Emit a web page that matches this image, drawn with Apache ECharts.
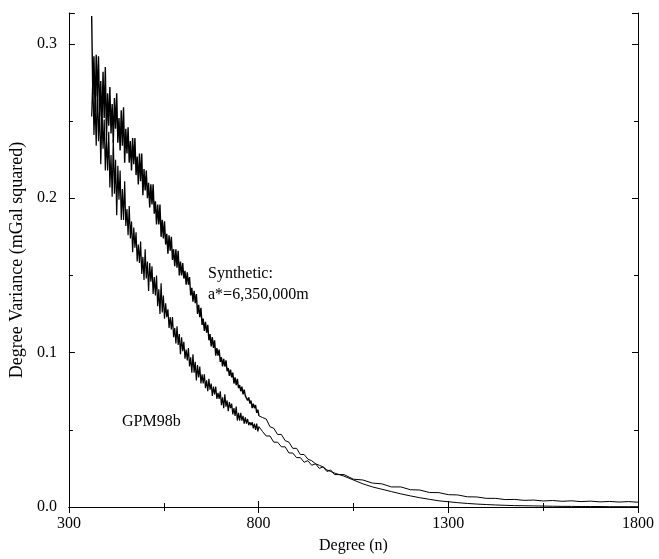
<!DOCTYPE html>
<html>
<head>
<meta charset="utf-8">
<script src="https://cdn.jsdelivr.net/npm/echarts@6/dist/echarts.min.js"></script>
<style>
html,body{margin:0;padding:0;background:#fff;overflow:hidden;}
#chart{width:659px;height:559px;}
</style>
</head>
<body>
<div id="chart"></div>
<script>
const degrees = [
360,363,366,369,372,375,378,381,384,387,390,393,396,399,
402,405,408,411,414,417,420,423,426,429,432,435,438,441,444,447,
450,453,456,459,462,465,468,471,474,477,480,483,486,489,492,495,498,
501,504,507,510,513,516,519,522,525,528,531,534,537,540,543,546,549,
552,555,558,561,564,567,570,573,576,579,582,585,588,591,594,597,
600,603,606,609,612,615,618,621,624,627,630,633,636,639,642,645,648,
651,654,657,660,663,666,669,672,675,678,681,684,687,690,693,696,699,
702,705,708,711,714,717,720,723,726,729,732,735,738,741,744,747,
750,753,756,759,762,765,768,771,774,777,780,783,786,789,792,795,798,801,
810,820,830,840,850,860,870,880,890,900,
910,920,930,940,950,960,970,980,990,1000,
1025,1050,1075,1100,1125,1150,1175,1200,1225,1250,1275,1300,1325,1350,1375,1400,
1425,1450,1475,1500,1525,1550,1575,1600,1625,1650,1675,1700,1725,1750,1775,1800
];
const synthetic = [
0.318,0.267,0.292,0.256,0.293,0.266,0.292,0.253,0.276,0.245,0.282,0.252,0.285,0.238,
0.268,0.247,0.272,0.242,0.261,0.236,0.265,0.245,0.268,0.236,0.252,0.231,0.257,0.234,0.259,0.223,
0.245,0.229,0.246,0.223,0.237,0.218,0.239,0.222,0.239,0.215,0.227,0.209,0.229,0.211,0.229,0.202,0.219,
0.205,0.218,0.200,0.210,0.194,0.209,0.196,0.209,0.190,0.198,0.183,0.196,0.183,0.196,0.175,0.186,0.174,
0.185,0.170,0.177,0.164,0.176,0.166,0.175,0.160,0.167,0.156,0.167,0.155,0.166,0.150,0.159,0.150,
0.158,0.148,0.153,0.144,0.152,0.144,0.149,0.137,0.142,0.133,0.140,0.132,0.138,0.125,0.131,0.123,0.129,
0.118,0.122,0.114,0.120,0.113,0.118,0.108,0.112,0.104,0.110,0.103,0.108,0.098,0.103,0.098,0.102,0.094,
0.097,0.091,0.096,0.091,0.095,0.088,0.090,0.085,0.089,0.084,0.087,0.080,0.084,0.079,0.083,0.077,
0.079,0.075,0.078,0.073,0.076,0.072,0.073,0.069,0.071,0.067,0.069,0.064,0.067,0.064,0.066,0.061,0.063,0.059,
0.058,0.057,0.052,0.051,0.047,0.047,0.043,0.042,0.038,0.038,
0.034,0.034,0.031,0.030,0.028,0.027,0.026,0.024,0.023,0.022,
0.020,0.0175,0.015,0.013,0.0115,0.010,0.0085,0.0072,0.006,0.005,0.004,0.0034,0.0028,0.0023,0.0019,0.0016,
0.0013,0.0011,0.0009,0.0008,0.0007,0.0006,0.0005,0.0004,0.0004,0.0003,0.0003,0.0003,0.0002,0.0002,0.0002,0.0002
];
const gpm98b = [
0.253,0.278,0.241,0.262,0.234,0.272,0.237,0.258,0.222,0.253,0.232,0.251,0.218,0.239,
0.218,0.243,0.207,0.228,0.201,0.238,0.203,0.225,0.189,0.221,0.199,0.218,0.186,0.206,0.186,0.211,
0.182,0.193,0.176,0.195,0.174,0.185,0.165,0.181,0.168,0.178,0.159,0.170,0.158,0.172,0.151,0.162,0.147,
0.167,0.148,0.159,0.140,0.158,0.146,0.156,0.138,0.149,0.137,0.150,0.130,0.141,0.125,0.145,0.126,0.137,
0.122,0.132,0.123,0.128,0.116,0.123,0.115,0.123,0.110,0.116,0.106,0.117,0.105,0.112,0.099,0.110,
0.101,0.107,0.096,0.102,0.095,0.103,0.091,0.097,0.087,0.099,0.087,0.094,0.082,0.092,0.084,0.091,0.080,
0.086,0.080,0.086,0.077,0.082,0.075,0.083,0.076,0.080,0.072,0.078,0.073,0.078,0.070,0.074,0.070,0.075,
0.066,0.071,0.064,0.073,0.065,0.069,0.062,0.068,0.064,0.067,0.060,0.064,0.059,0.065,0.056,0.061,
0.056,0.061,0.056,0.059,0.054,0.058,0.054,0.057,0.053,0.055,0.053,0.055,0.051,0.054,0.050,0.054,0.049,0.052,
0.049,0.046,0.046,0.042,0.042,0.039,0.039,0.035,0.035,0.032,
0.032,0.029,0.030,0.027,0.028,0.025,0.026,0.023,0.024,0.021,
0.021,0.018,0.0175,0.0155,0.015,0.013,0.013,0.0112,0.011,0.0094,0.0093,0.008,0.0078,0.0066,0.0065,0.0056,
0.0056,0.0048,0.0049,0.0043,0.0045,0.0039,0.0042,0.0037,0.004,0.0035,0.0038,0.0033,0.0036,0.0032,0.0035,0.0031
];
const noisyUntil = 801;   // the dense, noisy part of both traces ends here
const xTicks = [300, 800, 1300, 1800];
const yTicks = [0.0, 0.1, 0.2, 0.3];
const xName = 'Degree (n)';
const yName = 'Degree Variance (mGal squared)';
const labelSynthetic = ['Synthetic:', 'a*=6,350,000m'];
const labelGpm = 'GPM98b';

const FONT = '"Liberation Serif", "DejaVu Serif", serif';
const chart = echarts.init(document.getElementById('chart'), null, {renderer: 'canvas', width: 659, height: 559});

const cut = degrees.indexOf(noisyUntil);
function pairs(xs, ys){ return xs.map((x, i) => [x, ys[i]]); }
function head(ys){ return pairs(degrees.slice(0, cut + 1), ys.slice(0, cut + 1)); }
function tail(ys){ return pairs(degrees.slice(cut), ys.slice(cut)); }

const axLine = {show: true, lineStyle: {color: '#000', width: 1}};
const baseX = {
  type: 'value', min: xTicks[0], max: xTicks[xTicks.length-1], interval: xTicks[1]-xTicks[0],
  axisLine: axLine, splitLine: {show: false},
  axisTick: {show: true, inside: true, length: 6, lineStyle: {color: '#000'}},
  minorTick: {show: true, splitNumber: 2, length: 4, lineStyle: {color: '#000'}},
  minorSplitLine: {show: false}
};
const baseY = {
  type: 'value', min: 0, max: 0.32, interval: yTicks[1]-yTicks[0],
  axisLine: axLine, splitLine: {show: false},
  axisTick: {show: true, inside: true, length: 6, lineStyle: {color: '#000'}},
  minorTick: {show: true, splitNumber: 2, length: 4, lineStyle: {color: '#000'}},
  minorSplitLine: {show: false}
};
function line(name, data, w){
  return {type: 'line', name: name, data: data, showSymbol: false, silent: true,
    lineStyle: {color: '#000', width: w}, itemStyle: {color: '#000'}};
}

chart.setOption({
  animation: false,
  backgroundColor: '#fff',
  grid: {left: 67, right: 21, top: 13, bottom: 46, containLabel: false},
  xAxis: [
    Object.assign({}, baseX, {
      position: 'bottom',
      name: xName, nameLocation: 'middle', nameGap: 31,
      nameTextStyle: {fontFamily: FONT, fontSize: 16, color: '#000'},
      axisLabel: {show: true, margin: 9, fontFamily: FONT, fontSize: 16, color: '#000',
        formatter: v => xTicks.indexOf(v) >= 0 ? String(v) : ''}
    }),
    Object.assign({}, baseX, {position: 'top', axisLabel: {show: false}})
  ],
  yAxis: [
    Object.assign({}, baseY, {
      position: 'left',
      name: yName, nameLocation: 'middle', nameGap: 42, nameRotate: 90,
      nameTextStyle: {fontFamily: FONT, fontSize: 18, color: '#000'},
      axisLabel: {show: true, margin: 12, fontFamily: FONT, fontSize: 16, color: '#000',
        showMaxLabel: false,
        formatter: v => (Math.abs(v*10 - Math.round(v*10)) < 1e-6) ? v.toFixed(1) : ''}
    }),
    Object.assign({}, baseY, {position: 'right', axisLabel: {show: false}})
  ],
  series: [
    line('Synthetic', head(synthetic), 1.4),
    line('Synthetic tail', tail(synthetic), 1),
    line('GPM98b', head(gpm98b), 1.2),
    line('GPM98b tail', tail(gpm98b), 1)
  ],
  graphic: [
    {type: 'text', left: 208, top: 266, style: {text: labelSynthetic[0], font: '16px ' + FONT, fill: '#000'}},
    {type: 'text', left: 208, top: 287, style: {text: labelSynthetic[1], font: '16px ' + FONT, fill: '#000'}},
    {type: 'text', left: 122, top: 414, style: {text: labelGpm, font: '16px ' + FONT, fill: '#000'}}
  ]
});
</script>
</body>
</html>
